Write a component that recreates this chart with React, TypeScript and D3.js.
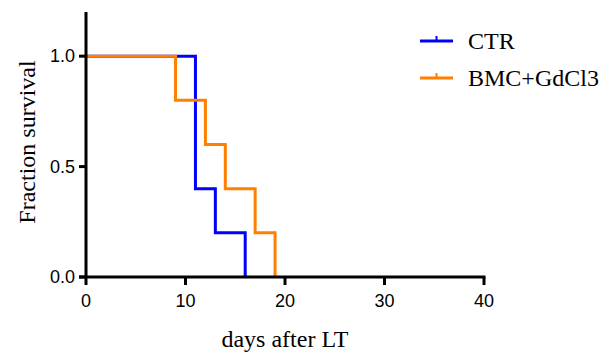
import * as d3 from 'd3';

const ctrDays = [0, 11, 13, 16];
const ctrSurvival = [1, 0.4, 0.2, 0];
const bmcDays = [0, 9, 12, 14, 17, 19];
const bmcSurvival = [1, 0.8, 0.6, 0.4, 0.2, 0];
const xTicks = [0, 10, 20, 30, 40];
const yTicks = [0, 0.5, 1.0];

const series = [
  { name: 'CTR', days: ctrDays, values: ctrSurvival, color: '#0000ff' },
  { name: 'BMC+GdCl3', days: bmcDays, values: bmcSurvival, color: '#ff7f00' },
];

export default function App() {
  const width = 614;
  const height = 356;
  const x = d3.scaleLinear().domain([0, 40]).range([86, 484]);
  const y = d3.scaleLinear().domain([0, 1.2]).range([277, 12]);

  const line = d3
    .line<[number, number]>()
    .x((d) => x(d[0]))
    .y((d) => y(d[1]))
    .curve(d3.curveStepAfter);

  const serif = '"Liberation Serif", "Times New Roman", serif';
  const sans = '"Liberation Sans", Arial, sans-serif';

  return (
    <svg
      width={width}
      height={height}
      style={{ position: 'absolute', left: 0, top: 0, background: '#fff' }}
    >
      {series.map((s) => (
        <path
          key={s.name}
          d={line(s.days.map((d, i) => [d, s.values[i]] as [number, number])) ?? ''}
          fill="none"
          stroke={s.color}
          strokeWidth={3}
        />
      ))}

      {/* y axis */}
      <line x1={x(0)} x2={x(0)} y1={y(1.2)} y2={y(0)} stroke="#000" strokeWidth={3} />
      {yTicks.map((t) => (
        <g key={t}>
          <line x1={x(0) - 7} x2={x(0)} y1={y(t)} y2={y(t)} stroke="#000" strokeWidth={3} />
          <text x={x(0) - 11} y={y(t) + 6} textAnchor="end" fontSize="18" fontFamily={sans} fill="#000">
            {t.toFixed(1)}
          </text>
        </g>
      ))}

      {/* x axis */}
      <line x1={x(0) - 7} x2={x(40) + 1.5} y1={y(0)} y2={y(0)} stroke="#000" strokeWidth={3} />
      {xTicks.map((t) => (
        <g key={t}>
          <line x1={x(t)} x2={x(t)} y1={y(0)} y2={y(0) + 8} stroke="#000" strokeWidth={3} />
          <text x={x(t)} y={y(0) + 30} textAnchor="middle" fontSize="18" fontFamily={sans} fill="#000">
            {t}
          </text>
        </g>
      ))}

      <text x={285} y={347} textAnchor="middle" fontSize="24" fontFamily={serif} fill="#000">
        days after LT
      </text>
      <text
        transform={`translate(35,142) rotate(-90)`}
        textAnchor="middle"
        fontSize="24"
        fontFamily={serif}
        fill="#000"
      >
        Fraction survival
      </text>

      {/* legend */}
      {series.map((s, i) => {
        const ly = 41 + i * 37;
        return (
          <g key={s.name}>
            <line x1={420} x2={453} y1={ly} y2={ly} stroke={s.color} strokeWidth={3} />
            <line x1={436.5} x2={436.5} y1={ly - 5} y2={ly} stroke={s.color} strokeWidth={2} />
            <text x={468} y={ly + 8} fontSize="24" fontFamily={serif} fill="#000">
              {s.name}
            </text>
          </g>
        );
      })}
    </svg>
  );
}
